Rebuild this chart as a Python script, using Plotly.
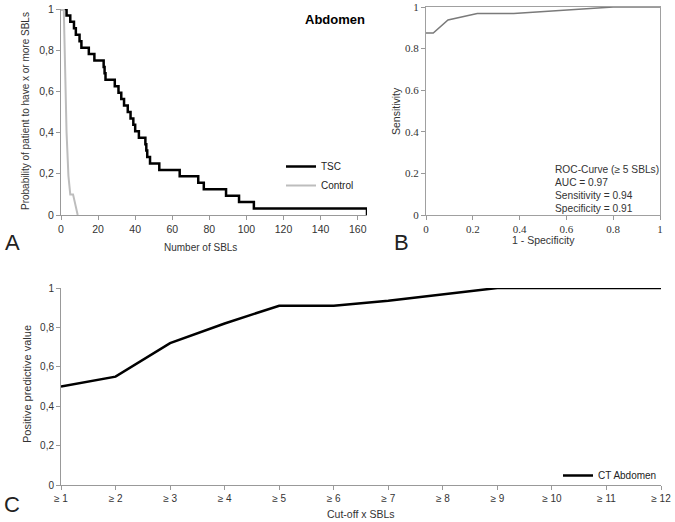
import plotly.graph_objects as go

# A: probability of a patient to have x or more SBLs
tsc_sbl = [0, 3, 5, 7, 8, 10, 11, 15, 18, 23, 23.5, 24, 29, 31, 32.5, 34, 36, 37.5,
           39, 40, 42, 45.5, 46, 46.5, 48, 53, 64, 74, 77, 89, 96, 104, 165]
tsc_prob = [1, 0.969, 0.938, 0.906, 0.875, 0.844, 0.8125, 0.781, 0.75, 0.719, 0.6875,
            0.656, 0.625, 0.594, 0.5625, 0.531, 0.5, 0.469, 0.4375, 0.406, 0.375,
            0.344, 0.3125, 0.281, 0.25, 0.219, 0.1875, 0.156, 0.125, 0.094, 0.0625,
            0.031, 0]
ctrl_sbl = [0, 1.5, 2.2, 3, 4, 5, 6.5, 9]
ctrl_prob = [1, 1, 0.72, 0.4, 0.19, 0.1, 0.1, 0]

# B: ROC curve
fpr = [0, 0.031, 0.094, 0.219, 0.375, 0.8, 1]
tpr = [0.875, 0.875, 0.938, 0.969, 0.969, 1, 1]
roc_notes = ["ROC-Curve (≥ 5 SBLs)", "AUC = 0.97", "Sensitivity = 0.94", "Specificity = 0.91"]

# C: positive predictive value per cut-off
cutoffs = ["≥ 1", "≥ 2", "≥ 3", "≥ 4", "≥ 5", "≥ 6", "≥ 7", "≥ 8", "≥ 9", "≥ 10", "≥ 11", "≥ 12"]
ppv = [0.5, 0.55, 0.72, 0.82, 0.91, 0.91, 0.935, 0.968, 1, 1, 1, 1]

prob_ticks = [0, 0.2, 0.4, 0.6, 0.8, 1]
prob_labels = ["0", "0,2", "0,4", "0,6", "0,8", "1"]

SANS = "Liberation Sans, Arial, sans-serif"
NARROW = "Liberation Sans Narrow, Arial Narrow, Liberation Sans, sans-serif"
SERIF = "Liberation Serif, Times New Roman, serif"
W, H = 675, 522


def px(x):
    # window pixel -> paper fraction
    return x / W


def py(y):
    return 1 - y / H


fig = go.Figure()

fig.add_trace(go.Scatter(x=tsc_sbl, y=tsc_prob, mode="lines", name="TSC", line_shape="hv",
                         line=dict(color="black", width=2.5), cliponaxis=False,
                         xaxis="x", yaxis="y", legend="legend"))
fig.add_trace(go.Scatter(x=ctrl_sbl, y=ctrl_prob, mode="lines", name="Control",
                         line=dict(color="#bdbdbd", width=2), cliponaxis=False,
                         xaxis="x", yaxis="y", legend="legend"))
fig.add_trace(go.Scatter(x=fpr, y=tpr, mode="lines", showlegend=False,
                         line=dict(color="#7a7a7a", width=1.5), cliponaxis=False,
                         xaxis="x2", yaxis="y2"))
fig.add_trace(go.Scatter(x=cutoffs, y=ppv, mode="lines", name="CT Abdomen",
                         line=dict(color="black", width=2.5), cliponaxis=False,
                         xaxis="x3", yaxis="y3", legend="legend2"))

axis_common = dict(showgrid=False, zeroline=False, showline=True, linecolor="#999999",
                   linewidth=1, ticks="outside", ticklen=4, tickcolor="#999999",
                   fixedrange=True, automargin=False, ticklabeloverflow="allow")

fig.update_layout(
    template="none",
    width=W, height=H, autosize=False,
    margin=dict(l=0, r=0, t=0, b=0, pad=0),
    paper_bgcolor="white", plot_bgcolor="white",
    font=dict(family=SANS, size=10, color="#333333"),
    xaxis=dict(axis_common, domain=[px(61), px(367)], range=[0, 165],
               tickvals=[0, 20, 40, 60, 80, 100, 120, 140, 160], anchor="y",
               tickfont=dict(family=SANS, size=10.5, color="#333333")),
    yaxis=dict(axis_common, domain=[py(215), py(9)], range=[0, 1], anchor="x",
               tickvals=prob_ticks, ticktext=prob_labels,
               tickfont=dict(family=SANS, size=10.5, color="#333333")),
    xaxis2=dict(axis_common, domain=[px(426), px(660)], range=[0, 1], anchor="y2",
                tickvals=[0, 0.2, 0.4, 0.6, 0.8, 1], mirror=True, linecolor="#a0a0a0",
                tickfont=dict(family=SERIF, size=11, color="#333333")),
    yaxis2=dict(axis_common, domain=[py(215), py(7)], range=[0, 1], anchor="x2",
                tickvals=[0, 0.2, 0.4, 0.6, 0.8, 1], mirror=True, linecolor="#a0a0a0",
                tickfont=dict(family=SERIF, size=11, color="#333333")),
    xaxis3=dict(axis_common, domain=[px(61), px(661)], range=[0, 11], type="category",
                anchor="y3", tickfont=dict(family=NARROW, size=10, color="#333333")),
    yaxis3=dict(axis_common, domain=[py(485), py(288)], range=[0, 1], anchor="x3",
                tickvals=prob_ticks, ticktext=prob_labels,
                tickfont=dict(family=NARROW, size=10, color="#333333")),
    legend=dict(x=px(281), y=py(152), xanchor="left", yanchor="top",
                font=dict(family=SANS, size=10, color="#222222"),
                bgcolor="rgba(0,0,0,0)", itemwidth=30, tracegroupgap=0),
    legend2=dict(x=px(558), y=py(461), xanchor="left", yanchor="top",
                 font=dict(family=NARROW, size=10, color="#222222"),
                 bgcolor="rgba(0,0,0,0)", itemwidth=30),
)

notes = [
    dict(text="<b>Abdomen</b>", x=px(335), y=py(20), font=dict(size=13, color="black")),
    dict(text="Number of SBLs", x=px(201), y=py(247), font=dict(size=10)),
    dict(text="Probability of patient to have x or more SBLs", x=px(25), y=py(111),
         textangle=-90, font=dict(size=10)),
    dict(text="1 - Specificity", x=px(543), y=py(240), font=dict(size=10.5)),
    dict(text="Sensitivity", x=px(396), y=py(111), textangle=-90, font=dict(size=10.5)),
    dict(text="Cut-off x SBLs", x=px(361), y=py(514),
         font=dict(family=NARROW, size=10.5)),
    dict(text="Positive predictive value", x=px(27), y=py(384), textangle=-90,
         font=dict(family=NARROW, size=11)),
    dict(text="A", x=px(12), y=py(243), font=dict(size=22, color="#222222")),
    dict(text="B", x=px(401), y=py(243), font=dict(size=22, color="#222222")),
    dict(text="C", x=px(12), y=py(504), font=dict(size=22, color="#222222")),
]
for n in notes:
    fig.add_annotation(xref="paper", yref="paper", showarrow=False,
                       xanchor="center", yanchor="middle", **n)

for i, t in enumerate(roc_notes):
    fig.add_annotation(xref="paper", yref="paper", showarrow=False, text=t,
                       x=px(553), y=py(170 + i * 12.7), xanchor="left", yanchor="middle",
                       font=dict(family=SANS, size=10.2, color="#333333"))

# drop the default 8px body margin so the figure fills the window exactly
fig.write_html("out.html", config={"displayModeBar": False},
               post_script="document.body.style.margin='0';")
